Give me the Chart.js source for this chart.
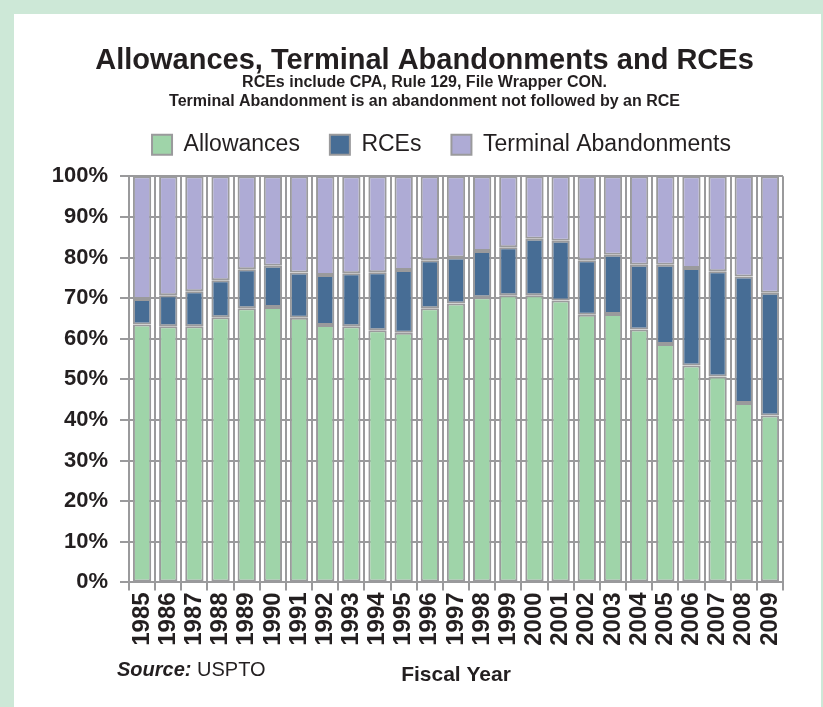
<!DOCTYPE html>
<html>
<head>
<meta charset="utf-8">
<script src="https://cdn.jsdelivr.net/npm/chart.js@4.4.0/dist/chart.umd.min.js"></script>
<style>
  html, body { margin: 0; padding: 0; background: #cde8d7; }
  #panel { position: absolute; left: 14px; top: 14px; width: 807px; height: 693px; background: #fff; }
  #wrap { position: absolute; left: 0; top: 0; width: 823px; height: 707px; }
</style>
</head>
<body>
<div id="panel"></div>
<div id="wrap"><canvas id="chart"></canvas></div>
<script>
// fiscal years and shares (percent of disposals)
const years = ["1985","1986","1987","1988","1989","1990","1991","1992","1993","1994","1995","1996","1997",
  "1998","1999","2000","2001","2002","2003","2004","2005","2006","2007","2008","2009"];
const allowances = [63.5,63.1,63.1,65.3,67.5,67.8,65.2,63.4,63.1,62.1,61.5,67.5,68.7,
  70.2,70.7,70.7,69.4,65.9,66.1,62.3,58.7,53.4,50.7,44.2,41.1];
const rces = [6.3,7.6,8.6,9.1,9.6,10.2,11.1,12.3,13.0,14.3,15.4,11.8,11.3,
  11.4,11.8,13.9,14.7,13.4,14.6,15.9,19.5,24.0,25.9,31.1,30.2];
const terminal = [30.2,29.3,28.3,25.6,22.9,22.0,23.7,24.3,23.9,23.6,23.1,20.7,20.0,
  18.4,17.5,15.4,15.9,20.7,19.3,21.8,21.8,22.6,23.4,24.7,28.7];
const yTicks = [0,10,20,30,40,50,60,70,80,90,100];

const FONT = "'Liberation Sans', Arial, sans-serif";
const GRAY = "#9a9a9c";

// Source note in the bottom-left corner
const sourceNote = {
  id: "sourceNote",
  afterDraw(chart) {
    const ctx = chart.ctx;
    ctx.save();
    ctx.fillStyle = "#231f20";
    ctx.textBaseline = "middle";
    ctx.font = "italic bold 20px " + FONT;
    ctx.fillText("Source:", 117, 670);
    const w = ctx.measureText("Source: ").width;
    ctx.font = "20px " + FONT;
    ctx.fillText("USPTO", 117 + w, 670);
    ctx.restore();
  }
};

// headings sit right of the plot centre in the original
const shiftBoxes = {
  id: "shiftBoxes",
  afterLayout(chart) {
    const move = (box, dx, dy) => {
      box.left += dx; box.right += dx;
      box.top += dy; box.bottom += dy;
    };
    move(chart.titleBlock, 33, 0);
    const sub = chart.boxes.find(b => b !== chart.titleBlock && b.options && Array.isArray(b.options.text));
    if (sub) move(sub, 33, 0);
    move(chart.legend, 50, -10);
  }
};

function barSet(label, data, color) {
  return {
    label, data,
    backgroundColor: color,
    borderColor: GRAY,
    borderWidth: 2,
    borderSkipped: false,
    barPercentage: 0.7,
    categoryPercentage: 1.0
  };
}

new Chart(document.getElementById("chart"), {
  type: "bar",
  data: {
    labels: years,
    datasets: [
      barSet("Allowances", allowances, "#9fd4a9"),
      barSet("RCEs", rces, "#476d95"),
      barSet("Terminal Abandonments", terminal, "#aeabd5")
    ]
  },
  options: {
    responsive: true,
    maintainAspectRatio: false,
    animation: false,
    layout: { padding: { top: 35, right: 40, bottom: 19, left: 0 } },
    plugins: {
      title: {
        display: true,
        text: "Allowances, Terminal Abandonments and RCEs",
        color: "#231f20",
        font: { family: FONT, size: 29, weight: "bold", lineHeight: 1.1 },
        padding: { top: 10, bottom: -4 }
      },
      subtitle: {
        display: true,
        text: ["RCEs include CPA, Rule 129, File Wrapper CON.",
               "Terminal Abandonment is an abandonment not followed by an RCE"],
        color: "#231f20",
        font: { family: FONT, size: 16, weight: "bold", lineHeight: 1.2 },
        padding: { top: 0, bottom: 2 }
      },
      legend: {
        display: true,
        labels: {
          color: "#231f20",
          font: { family: FONT, size: 23 },
          boxWidth: 20,
          boxHeight: 20,
          padding: 30
        }
      },
      tooltip: { enabled: false }
    },
    scales: {
      x: {
        stacked: true,
        grid: { color: GRAY, lineWidth: 2, tickLength: 8, offset: true },
        border: { color: GRAY, width: 2 },
        ticks: {
          color: "#231f20",
          font: { family: FONT, size: 24, weight: "bold" },
          minRotation: 90, maxRotation: 90,
          autoSkip: false, padding: 2
        },
        title: {
          display: true,
          text: "Fiscal Year",
          color: "#231f20",
          font: { family: FONT, size: 21, weight: "bold" },
          padding: { top: 15, bottom: 0 }
        }
      },
      y: {
        stacked: true,
        min: 0, max: 100,
        afterBuildTicks(scale) { scale.ticks = yTicks.map(v => ({ value: v })); },
        afterFit(scale) { scale.width = 129; },
        grid: { color: GRAY, lineWidth: 2, tickLength: 9 },
        border: { color: GRAY, width: 2 },
        ticks: {
          color: "#231f20",
          font: { family: FONT, size: 22, weight: "bold" },
          padding: 12,
          callback: v => v + "%"
        }
      }
    }
  },
  plugins: [sourceNote, shiftBoxes]
});
</script>
</body>
</html>
